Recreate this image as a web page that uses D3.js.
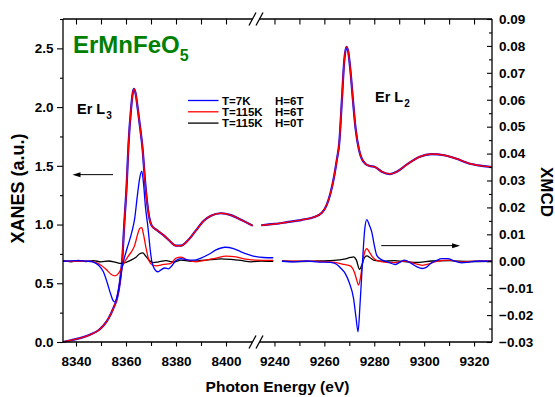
<!DOCTYPE html>
<html>
<head>
<meta charset="utf-8">
<script src="https://cdn.jsdelivr.net/npm/d3@7"></script>
<style>
  body { margin: 0; background: #fff; }
  svg text { font-family: "Liberation Sans", Arial, sans-serif; font-weight: bold; }
</style>
</head>
<body>
<div id="chart"></div>
<script>
// XANES (left axis), [energy eV, a.u.] - 7K and 115K curves lie on top of each other
const xanesL3 = [
  [8334.8, 0.00], [8338, 0.015], [8342, 0.035], [8346, 0.065], [8349, 0.10], [8351, 0.14],
  [8353, 0.20], [8355, 0.29], [8356.5, 0.38], [8357.5, 0.50], [8358.5, 0.70], [8359.3, 1.00],
  [8360.3, 1.35], [8361, 1.68], [8362, 1.98], [8362.7, 2.12], [8363.2, 2.155], [8363.8, 2.12],
  [8364.8, 1.97], [8365.8, 1.80], [8366.7, 1.63], [8367.5, 1.40], [8368.5, 1.18], [8369.3, 1.06],
  [8370.3, 0.99], [8372.5, 0.95], [8375, 0.91], [8377.5, 0.86], [8380, 0.82], [8382, 0.82],
  [8385, 0.87], [8388, 0.95], [8391, 1.03], [8394, 1.075], [8398, 1.096], [8402, 1.08],
  [8406, 1.04], [8410.7, 0.99]
];
const xanesL2 = [
  [9234.7, 0.994], [9240, 1.005], [9245, 1.02], [9251, 1.04], [9256, 1.065], [9259, 1.10],
  [9261, 1.17], [9262.5, 1.27], [9264, 1.42], [9265, 1.55], [9266, 1.70], [9267, 2.05],
  [9268, 2.40], [9268.8, 2.513], [9269.5, 2.48], [9270.5, 2.30], [9271.5, 2.05], [9272.5, 1.82],
  [9273.9, 1.635], [9275, 1.56], [9276.3, 1.52], [9278, 1.50], [9280.3, 1.49], [9283, 1.45],
  [9286.3, 1.43], [9289, 1.45], [9293, 1.51], [9298, 1.575], [9303, 1.60], [9308, 1.59],
  [9313, 1.56], [9318, 1.52], [9323, 1.50], [9327.2, 1.49]
];

// XMCD (right axis)
const xmcd7K6T_L3 = [
  [8334.8, 0], [8340, 0.0002], [8345, 0], [8347, -0.0003], [8349, -0.0015], [8351, -0.004],
  [8352.5, -0.008], [8353.8, -0.012], [8355, -0.0148], [8355.6, -0.0151], [8356.5, -0.013],
  [8357.5, -0.008], [8358.3, -0.003], [8359, 0], [8360.5, 0.005], [8362.3, 0.0107], [8363.5, 0.016],
  [8364.5, 0.024], [8365.5, 0.031], [8366.3, 0.0335], [8367, 0.029], [8367.8, 0.02], [8368.8, 0.0125],
  [8369.6, 0.005], [8370.3, 0], [8371.5, -0.003], [8372.7, -0.0039], [8374, -0.0032],
  [8375.5, -0.0025], [8377, -0.0028], [8378.5, -0.0015], [8380, 0.0003], [8382, 0.001],
  [8384, 0.0006], [8387, 0.0004], [8390, 0.0012], [8393, 0.0025], [8396, 0.0042], [8399.6, 0.0052],
  [8403, 0.0047], [8406, 0.0035], [8409, 0.0025], [8412, 0.0017], [8415, 0.0014], [8418.9, 0.0013]
];
const xmcd115K6T_L3 = [
  [8334.8, 0], [8345, 0], [8348, -0.0005], [8350, -0.0015], [8352, -0.003], [8354, -0.0048],
  [8355.6, -0.0054], [8357, -0.0045], [8358.5, -0.002], [8359.6, 0], [8361, 0.002], [8362.5, 0.004],
  [8363.5, 0.006], [8364.5, 0.0095], [8365.5, 0.0122], [8366.3, 0.0125], [8367, 0.010], [8368, 0.005],
  [8369.3, 0], [8370.5, -0.0013], [8372, -0.0017], [8375, -0.0012], [8378, -0.0008], [8380, 0.0012],
  [8382, 0.0015], [8385, 0.0003], [8388, -0.0002], [8392, 0.0004], [8396, 0.0012], [8400, 0.0019],
  [8404, 0.0016], [8408, 0.0008], [8412, 0.0004], [8418.9, 0.0003]
];
const xmcd115K0T_L3 = [
  [8334.8, 0.0002], [8338, -0.0002], [8341, 0.0003], [8344, -0.0001], [8347, 0.0002], [8350, -0.0002],
  [8353, 0.0001], [8356, -0.0004], [8358, -0.0008], [8360, -0.0004], [8362, 0.0004], [8364, 0.0015],
  [8365.5, 0.0028], [8366.7, 0.0031], [8368, 0.0018], [8369.5, 0.0002], [8371, -0.0005],
  [8373, -0.0002], [8376, 0.0002], [8379, -0.0003], [8382, 0.0004], [8386, 0], [8390, 0.0003],
  [8394, 0.0006], [8398, 0.0009], [8402, 0.0007], [8406, 0.0003], [8410, -0.0002], [8414, 0.0001],
  [8418.9, 0]
];
const xmcd7K6T_L2 = [
  [9243, 0], [9248, -0.0002], [9253, 0.0001], [9258, -0.0003], [9262.4, -0.0004], [9264.7, -0.001],
  [9266.5, -0.0025], [9268.4, -0.0046], [9270, -0.008], [9271.7, -0.0138], [9272.7, -0.021],
  [9273.5, -0.0262], [9274.3, -0.016], [9275.3, 0], [9276.2, 0.012], [9277, 0.0155], [9278, 0.0135],
  [9279, 0.0109], [9280, 0.006], [9281, 0.0022], [9283, 0.0005], [9285, -0.0001], [9288.4, -0.0012],
  [9290, -0.0005], [9292, 0.0004], [9295, -0.0009], [9297, -0.002], [9299.3, -0.0027],
  [9301, -0.0022], [9302.5, -0.0009], [9305, 0.0003], [9307, 0.001], [9309.5, 0.001], [9312, 0.0001],
  [9315, -0.0006], [9318, -0.0003], [9322, 0.0001], [9327.2, 0]
];
const xmcd115K6T_L2 = [
  [9243, 0], [9255, 0], [9262, -0.0002], [9264.7, -0.0005], [9268, -0.0012], [9270.4, -0.0017],
  [9272, -0.004], [9273, -0.007], [9273.7, -0.0089], [9274.5, -0.006], [9275.4, 0], [9276.2, 0.0035],
  [9277, 0.0047], [9278, 0.0035], [9279.3, 0.0016], [9281, 0.0003], [9284, -0.0003], [9288, -0.0005],
  [9292, 0.0001], [9296, -0.0008], [9299.3, -0.0015], [9302, -0.001], [9305, 0], [9310, 0.0004],
  [9315, -0.0003], [9320, 0], [9327.2, 0]
];
const xmcd115K0T_L2 = [
  [9243, 0.0001], [9250, -0.0001], [9258, 0.0001], [9264, 0.0003], [9268, 0.0008], [9270.5, 0.0014],
  [9271.7, 0.0016], [9272.8, 0.0005], [9274.1, -0.003], [9275.2, -0.001], [9276, 0.0012], [9277, 0.002],
  [9278.5, 0.0012], [9280, 0.0003], [9283, 0], [9288, 0.0002], [9293, -0.0002], [9298, -0.0004],
  [9303, 0.0001], [9310, 0.0002], [9318, -0.0001], [9327.2, 0]
];

// axis ticks
const xTicksL3 = [8340, 8360, 8380, 8400];
const xMinorL3 = [8350, 8370, 8390];
const xTicksL2 = [9240, 9260, 9280, 9300, 9320];
const xMinorL2 = [9250, 9270, 9290, 9310];
const yTicksLeft = [0, 0.5, 1.0, 1.5, 2.0, 2.5];
const yMinorLeft = [0.25, 0.75, 1.25, 1.75, 2.25, 2.75];
const yTicksRight = [-0.03, -0.02, -0.01, 0, 0.01, 0.02, 0.03, 0.04, 0.05, 0.06, 0.07, 0.08, 0.09];

const legendItems = [
  { label: "T=7K", field: "H=6T", color: "#0000ff" },
  { label: "T=115K", field: "H=6T", color: "#ff0000" },
  { label: "T=115K", field: "H=0T", color: "#000000" }
];

const width = 555, height = 397;
const margin = { top: 19, right: 63, bottom: 55, left: 63 };
const plotR = width - margin.right, plotB = height - margin.bottom;
const breakX = 256;

const svg = d3.select("#chart").append("svg")
  .attr("width", width).attr("height", height);

// broken x axis: two linear pieces
const xL = d3.scaleLinear().domain([8334.8, 8412]).range([margin.left, breakX]);
const xR = d3.scaleLinear().domain([9232.6, 9327.2]).range([breakX, plotR]);
const yL = d3.scaleLinear().domain([0, 2.75]).range([plotB, margin.top]);
const yR = d3.scaleLinear().domain([-0.03, 0.09]).range([plotB, margin.top]);

const xOf = e => e < 9000 ? xL(e) : xR(e);

function draw(data, y, color, w) {
  const line = d3.line().x(d => xOf(d[0])).y(d => y(d[1])).curve(d3.curveMonotoneX);
  svg.append("path").datum(data)
    .attr("d", line).attr("fill", "none")
    .attr("stroke", color).attr("stroke-width", w)
    .attr("stroke-linejoin", "round");
}

// XANES: blue under red
draw(xanesL3, yL, "#0000ff", 2.2);
draw(xanesL2, yL, "#0000ff", 2.2);
draw(xanesL3, yL, "#ff0000", 1.4);
draw(xanesL2, yL, "#ff0000", 1.4);

// XMCD
draw(xmcd115K0T_L3, yR, "#000000", 1.3);
draw(xmcd115K0T_L2, yR, "#000000", 1.3);
draw(xmcd115K6T_L3, yR, "#ff0000", 1.3);
draw(xmcd115K6T_L2, yR, "#ff0000", 1.3);
draw(xmcd7K6T_L3, yR, "#0000ff", 1.3);
draw(xmcd7K6T_L2, yR, "#0000ff", 1.3);

// axes
function styleAxis(g) {
  g.select(".domain").remove();
  g.style("font-size", "13.5px").style("font-family", '"Liberation Sans", Arial, sans-serif')
   .style("font-weight", "bold");
  g.selectAll("line").attr("stroke-width", 1.1);
  g.selectAll("text").attr("fill", "#000");
}

[[xL, xTicksL3, xMinorL3], [xR, xTicksL2, xMinorL2]].forEach(([sc, major, minor]) => {
  svg.append("g").attr("transform", `translate(0,${plotB})`)
    .call(d3.axisBottom(sc).tickValues(major).tickSize(4.5).tickPadding(9.5).tickFormat(d3.format("d")))
    .call(styleAxis);
  svg.append("g").attr("transform", `translate(0,${plotB})`)
    .call(d3.axisBottom(sc).tickValues(minor).tickSize(4).tickFormat(""))
    .call(styleAxis);
  svg.append("g").attr("transform", `translate(0,${margin.top})`)
    .call(d3.axisTop(sc).tickValues(major.concat(minor)).tickSize(-5.5).tickFormat(""))
    .call(styleAxis);
});

svg.append("g").attr("transform", `translate(${margin.left},0)`)
  .call(d3.axisLeft(yL).tickValues(yTicksLeft).tickSize(6).tickPadding(3.5).tickFormat(d3.format(".1f")))
  .call(styleAxis);
svg.append("g").attr("transform", `translate(${margin.left},0)`)
  .call(d3.axisLeft(yL).tickValues(yMinorLeft).tickSize(3).tickFormat(""))
  .call(styleAxis);

svg.append("g").attr("transform", `translate(${plotR},0)`)
  .call(d3.axisRight(yR).tickValues(yTicksRight).tickSize(-5).tickPadding(7).tickFormat(d3.format(".2f")))
  .call(styleAxis);
svg.append("g").attr("transform", `translate(${plotR},0)`)
  .call(d3.axisRight(yR).tickValues(yTicksRight.slice(0, -1).map(v => v + 0.005)).tickSize(-3).tickFormat(""))
  .call(styleAxis);

// frame with the break
const frame = svg.append("g").attr("stroke", "#000").attr("stroke-width", 1.3).attr("fill", "none");
[margin.top, plotB].forEach(yy => {
  frame.append("line").attr("x1", margin.left).attr("x2", breakX - 3.5).attr("y1", yy).attr("y2", yy);
  frame.append("line").attr("x1", breakX + 3.5).attr("x2", plotR).attr("y1", yy).attr("y2", yy);
  [-3.5, 3.5].forEach(dx => {
    frame.append("line")
      .attr("x1", breakX + dx - 3.5).attr("y1", yy + 6.5)
      .attr("x2", breakX + dx + 3.5).attr("y2", yy - 6.5);
  });
});
frame.append("line").attr("x1", margin.left).attr("x2", margin.left).attr("y1", margin.top).attr("y2", plotB);
frame.append("line").attr("x1", plotR).attr("x2", plotR).attr("y1", margin.top).attr("y2", plotB);

// arrows pointing to the axis each data set belongs to
function arrow(x1, x2, y) {
  const dir = Math.sign(x2 - x1);
  svg.append("line").attr("x1", x1).attr("x2", x2 - dir * 6).attr("y1", y).attr("y2", y)
    .attr("stroke", "#000").attr("stroke-width", 1);
  svg.append("path")
    .attr("d", `M${x2},${y}L${x2 - dir * 8},${y - 2.5}L${x2 - dir * 8},${y + 2.5}Z`)
    .attr("fill", "#000");
}
arrow(xL(8354.8), xL(8338.6), yL(1.425));
arrow(xR(9282.8), xR(9314.4), yR(0.0058));

// texts
const title = svg.append("text").attr("x", 73).attr("y", 53)
  .attr("fill", "#008000").style("font-size", "24px").text("ErMnFeO");
title.append("tspan").attr("dy", 8).style("font-size", "16px").text("5");

const l3 = svg.append("text").attr("x", 77).attr("y", 114).style("font-size", "14.5px").text("Er L");
l3.append("tspan").attr("dy", 5).attr("dx", 1).style("font-size", "10px").text("3");
const l2 = svg.append("text").attr("x", 375).attr("y", 101.5).style("font-size", "14.5px").text("Er L");
l2.append("tspan").attr("dy", 5).attr("dx", 1).style("font-size", "10px").text("2");

const legend = svg.append("g");
legendItems.forEach((d, i) => {
  const yy = 100.5 + i * 11.3;
  legend.append("line").attr("x1", 188).attr("x2", 218.5).attr("y1", yy).attr("y2", yy)
    .attr("stroke", d.color).attr("stroke-width", 1.3);
  legend.append("text").attr("x", 222).attr("y", yy + 4).style("font-size", "11.5px").text(d.label);
  legend.append("text").attr("x", 275).attr("y", yy + 4).style("font-size", "11.5px").text(d.field);
});

svg.append("text").attr("text-anchor", "middle")
  .attr("transform", "translate(23.5,188.5) rotate(-90)")
  .style("font-size", "18px").text("XANES (a.u.)");
svg.append("text").attr("text-anchor", "middle")
  .attr("transform", "translate(540.5,192) rotate(90)")
  .style("font-size", "17px").text("XMCD");
svg.append("text").attr("text-anchor", "middle").attr("x", 277.5).attr("y", 391.5)
  .style("font-size", "15.5px").text("Photon Energy (eV)");
</script>
</body>
</html>
